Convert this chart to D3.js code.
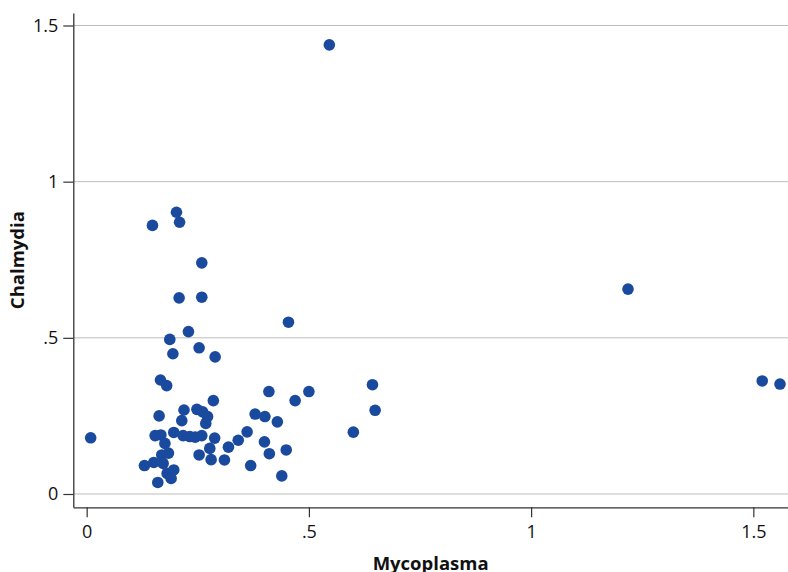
<!DOCTYPE html>
<html>
<head>
<meta charset="utf-8">
<script src="https://cdn.jsdelivr.net/npm/d3@7"></script>
<style>
  body { margin: 0; background: #fff; }
  svg { display: block; }
  text { font-family: "Open Sans", sans-serif; fill: #111; }
</style>
</head>
<body>
<div id="scatter"></div>
<script>
// data
var mycoplasma = [0.546, 0.202, 0.148, 0.209, 0.259, 0.208, 0.259, 0.454, 0.229, 0.187,
    0.253, 0.194, 0.289, 1.218, 1.520, 1.560, 0.009, 0.166, 0.180, 0.285,
    0.410, 0.500, 0.469, 0.643, 0.649, 0.600, 0.219, 0.248, 0.261, 0.272,
    0.268, 0.379, 0.401, 0.429, 0.361, 0.341, 0.319, 0.288, 0.400, 0.411,
    0.449, 0.310, 0.369, 0.439, 0.163, 0.214, 0.196, 0.154, 0.167, 0.217,
    0.232, 0.244, 0.259, 0.176, 0.184, 0.169, 0.130, 0.151, 0.172, 0.196,
    0.181, 0.190, 0.160, 0.253, 0.277, 0.280];
var chalmydia = [1.438, 0.902, 0.860, 0.870, 0.740, 0.628, 0.630, 0.550, 0.520, 0.495,
    0.468, 0.449, 0.439, 0.656, 0.362, 0.352, 0.180, 0.365, 0.347, 0.299,
    0.328, 0.328, 0.299, 0.350, 0.268, 0.198, 0.269, 0.271, 0.263, 0.248,
    0.226, 0.256, 0.248, 0.231, 0.199, 0.172, 0.150, 0.179, 0.167, 0.129,
    0.141, 0.109, 0.091, 0.058, 0.250, 0.235, 0.197, 0.187, 0.189, 0.187,
    0.184, 0.182, 0.187, 0.162, 0.131, 0.125, 0.091, 0.101, 0.098, 0.077,
    0.066, 0.050, 0.037, 0.125, 0.146, 0.110];

var xTicks = [0, 0.5, 1, 1.5];
var xTickLabels = ["0", ".5", "1", "1.5"];
var yTicks = [0, 0.5, 1, 1.5];
var yTickLabels = ["0", ".5", "1", "1.5"];

var svgWidth = 788;
var svgHeight = 572;

// plot region edges (pixels)
var plotLeft = 73.3, plotRight = 788, plotTop = 13, plotBottom = 507.3;

var svg = d3.select("#scatter")
    .append("svg")
    .attr("width", svgWidth)
    .attr("height", svgHeight);

var xScale = d3.scaleLinear()
    .domain([-0.0301, 1.578])
    .range([plotLeft, plotRight]);

var yScale = d3.scaleLinear()
    .domain([-0.0426, 1.540])
    .range([plotBottom, plotTop]);

// horizontal grid lines
svg.append("g")
    .selectAll("line")
    .data(yTicks)
    .enter()
    .append("line")
    .attr("x1", plotLeft)
    .attr("x2", plotRight)
    .attr("y1", d => yScale(d))
    .attr("y2", d => yScale(d))
    .attr("stroke", "#bdbdbd")
    .attr("stroke-width", 1);

// axes
var bottomAxis = d3.axisBottom(xScale)
    .tickValues(xTicks)
    .tickFormat((d, i) => xTickLabels[i])
    .tickSizeInner(10)
    .tickSizeOuter(0)
    .tickPadding(8);

var leftAxis = d3.axisLeft(yScale)
    .tickValues(yTicks)
    .tickFormat((d, i) => yTickLabels[i])
    .tickSizeInner(10)
    .tickSizeOuter(0)
    .tickPadding(5);

var xAxisG = svg.append("g")
    .attr("transform", `translate(0, ${plotBottom})`)
    .call(bottomAxis);

var yAxisG = svg.append("g")
    .attr("transform", `translate(${plotLeft}, 0)`)
    .call(leftAxis);

[xAxisG, yAxisG].forEach(g => {
    g.select(".domain").attr("stroke", "#333").attr("stroke-width", 1.3);
    g.selectAll(".tick line").attr("stroke", "#333").attr("stroke-width", 1.2);
    g.selectAll(".tick text")
        .attr("font-family", "Open Sans, sans-serif")
        .attr("font-size", 18)
        .attr("fill", "#111");
});

// markers
svg.append("g")
    .selectAll("circle")
    .data(mycoplasma)
    .enter()
    .append("circle")
    .attr("cx", d => xScale(d))
    .attr("cy", (d, i) => yScale(chalmydia[i]))
    .attr("r", 5.8)
    .attr("fill", "#1a4a9e");

// axis titles
svg.append("text")
    .attr("x", (plotLeft + plotRight) / 2)
    .attr("y", 570)
    .attr("text-anchor", "middle")
    .attr("font-size", 18.5)
    .attr("font-weight", "bold")
    .text("Mycoplasma");

svg.append("text")
    .attr("transform", `translate(24, ${(plotTop + plotBottom) / 2}) rotate(-90)`)
    .attr("text-anchor", "middle")
    .attr("font-size", 18.5)
    .attr("font-weight", "bold")
    .text("Chalmydia");
</script>
</body>
</html>
